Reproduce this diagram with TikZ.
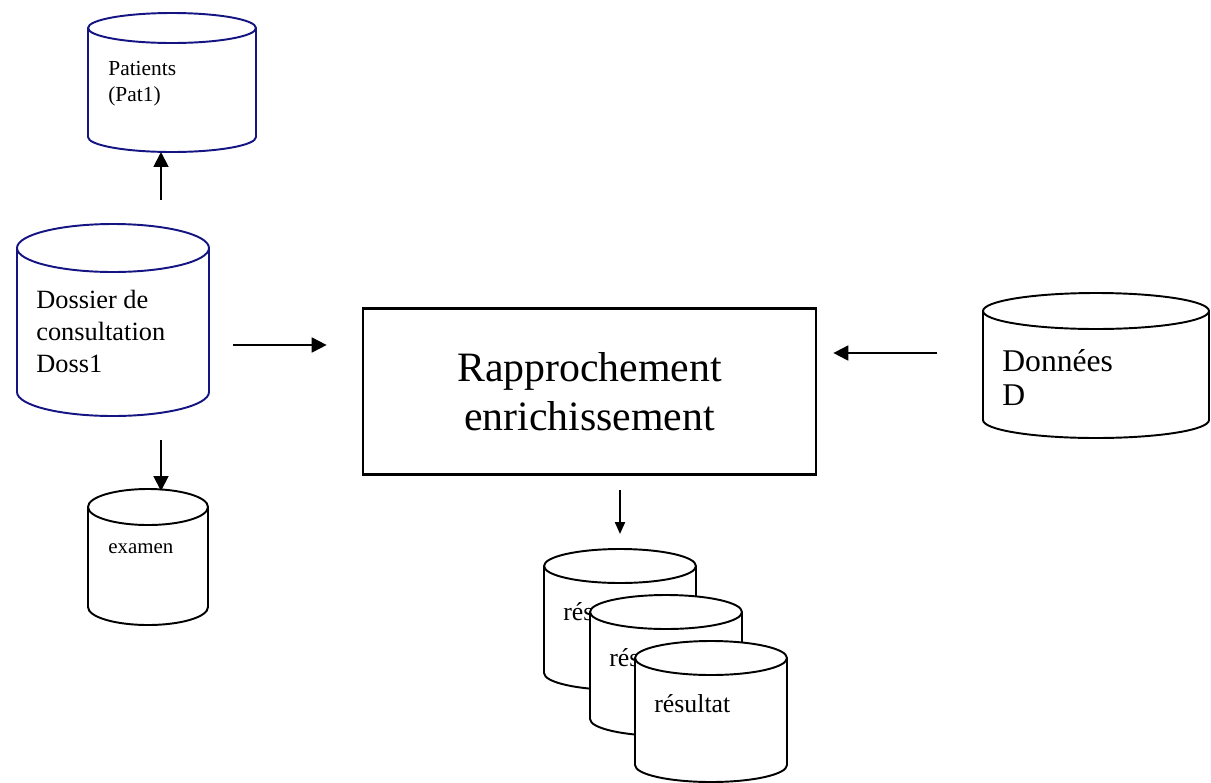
\documentclass[tikz,border=0pt]{standalone}
\usepackage{fontspec}
\setmainfont{Liberation Serif}
\usetikzlibrary{arrows.meta,calc}
\definecolor{dbblue}{RGB}{20,20,130}

% cylinder: name, left, right, top y, bottom y, y radius, colour
\newcommand{\dbcyl}[7]{%
    \pgfmathsetmacro{\cylrx}{(#3-#2)/2}
    \pgfmathsetmacro{\cylcx}{(#2+#3)/2}
    \filldraw[cyl,draw=#7] (#2,#4) -- (#2,#5)
        arc[start angle=180,end angle=0,x radius=\cylrx,y radius=#6]
        -- (#3,#4)
        arc[start angle=0,end angle=-180,x radius=\cylrx,y radius=#6] -- cycle;
    \draw[cyl,draw=#7] (#2,#4) arc[start angle=180,end angle=0,x radius=\cylrx,y radius=#6];
    \coordinate (#1-t) at (\cylcx,#4-#6);
    \coordinate (#1-b) at (\cylcx,#5+#6);
}

\begin{document}
\begin{tikzpicture}[
    x=0.02cm, y=-0.02cm,
    cyl/.style={line width=1.1pt,fill=white},
    arr/.style={line width=1.1pt,-{Triangle[length=8.5pt,width=8.5pt]}},
    arrsmall/.style={line width=1.1pt,-{Triangle[length=6.8pt,width=5.7pt]}},
    box/.style={draw,line width=1.6pt,minimum width=9.06cm,minimum height=3.32cm,
        align=center,font=\fontsize{23.8}{27.8}\selectfont},
    txt/.style={anchor=base west,inner sep=0pt,align=left}
]
\useasboundingbox (0,0) rectangle (1211,782);

% Databases (text anchored on the baseline of its last line)
\dbcyl{pat}{88}{256}{28}{137}{15}{dbblue}
\dbcyl{doss}{17}{209}{248}{392}{24}{dbblue}
\dbcyl{exa}{88}{208}{507}{607}{18}{black}
\dbcyl{don}{983}{1209}{311}{420}{18}{black}

\node[txt,font=\fontsize{12.2}{14.7}\selectfont] (pattxt) at (108,101) {Patients\\(Pat1)};
\node[txt,font=\fontsize{15}{18.1}\selectfont] (dosstxt) at (36,372) {Dossier de\\consultation\\Doss1};
\node[txt,font=\fontsize{11.9}{14}\selectfont] (exatxt) at (108,553) {examen};
\node[txt,font=\fontsize{18}{19.3}\selectfont] (dontxt) at (1002,405) {Données\\D};

% Stack of results
\foreach \i/\xl/\yt in {1/544/566, 2/590/612, 3/635/658}
{
    \pgfmathsetmacro{\xr}{\xl+152}
    \pgfmathsetmacro{\yb}{\yt+107}
    \dbcyl{res\i}{\xl}{\xr}{\yt}{\yb}{17}{black}
    \node[txt,font=\fontsize{14.7}{17}\selectfont] (restxt\i) at (\xl+19,\yt+54) {résultat};
}

% Process
\node[box] (rap) at (589.5,391.5) {Rapprochement\\enrichissement};

% Flows
\coordinate (doss-up) at (161,200);
\coordinate (doss-down) at (161,440);
\coordinate (doss-out) at (233,345);
\coordinate (don-out) at (937,353);
\coordinate (rap-out) at (620,490);
\coordinate (res-in) at (620,534);

\draw[arr] (doss-up) -- (doss-up |- pat-b);
\draw[arr] (doss-down) -- ($(doss-down |- exa-t)+(0,2)$);
\draw[arr,shorten >=0.7cm] (doss-out) -- (rap.west |- doss-out);
\draw[arr,shorten >=0.32cm] (don-out) -- (rap.east |- don-out);
\draw[arrsmall] (rap-out) -- (res-in);

\end{tikzpicture}
\end{document}
